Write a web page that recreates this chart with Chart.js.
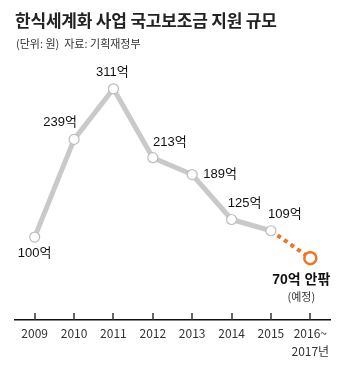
<!DOCTYPE html>
<html>
<head>
<meta charset="utf-8">
<script src="https://cdn.jsdelivr.net/npm/chart.js@4.4.3/dist/chart.umd.min.js"></script>
<style>
  html, body { margin:0; padding:0; background:#fff; }
  body { width:350px; height:382px; position:relative; overflow:hidden; font-family:"Noto Sans CJK KR", sans-serif; }
  #title { position:absolute; left:15px; top:7px; font-size:17px; font-weight:700; color:#222; letter-spacing:-0.2px; white-space:nowrap; }
  #sub { position:absolute; left:16px; top:35px; font-size:11px; color:#333; white-space:nowrap; }
  #wrap { position:absolute; left:0; top:0; width:350px; height:382px; }
</style>
</head>
<body>
<div id="wrap"><canvas id="c" width="350" height="382"></canvas></div>
<div id="title">한식세계화 사업 국고보조금 지원 규모</div>
<div id="sub">(단위: 원)&nbsp; 자료: 기획재정부</div>
<script>
// 데이터
const years = ['2009','2010','2011','2012','2013','2014','2015',['2016~','2017년']];
const amounts = [100,239,311,213,189,125,109,70];
const valueLabels = ['100억','239억','311억','213억','189억','125억','109억','70억 안팎'];
const noteLabel = '(예정)';

// 라벨 위치 (점 기준 오프셋)
const labelOffsets = [[0,16],[-14,-17],[-1,-16],[17,-15],[28,0],[13,-16],[14,-16],[-9,22]];

const GRAY = '#c9c9c9', ORANGE = '#f07324';
const last = amounts.length - 1;

const labelPlugin = {
  id: 'valueLabels',
  afterDatasetsDraw(chart){
    const ctx = chart.ctx;
    const pts = chart.getDatasetMeta(0).data;
    ctx.save();
    ctx.textAlign = 'center';
    ctx.textBaseline = 'middle';
    ctx.fillStyle = '#111';
    pts.forEach((p,i)=>{
      const [dx,dy] = labelOffsets[i];
      ctx.font = (i===last ? 'bold 14px ' : '13px ') + '"Liberation Sans","Noto Sans CJK KR",sans-serif';
      ctx.fillText(valueLabels[i], p.x+dx, p.y+dy);
      if(i===last){
        ctx.font = '11px "Noto Sans CJK KR",sans-serif';
        ctx.fillStyle = '#333';
        ctx.fillText(noteLabel, p.x+dx, p.y+dy+17);
      }
    });
    ctx.restore();
  }
};

// x축 위쪽 눈금
const tickPlugin = {
  id: 'upTicks',
  afterDraw(chart){
    const ctx = chart.ctx, xs = chart.scales.x, b = chart.chartArea.bottom;
    ctx.save();
    ctx.strokeStyle = '#333'; ctx.lineWidth = 1.5;
    years.forEach((_,i)=>{
      const x = Math.round(xs.getPixelForValue(i));
      ctx.beginPath(); ctx.moveTo(x, b-7); ctx.lineTo(x, b); ctx.stroke();
    });
    ctx.restore();
  }
};

new Chart(document.getElementById('c').getContext('2d'), {
  type: 'line',
  data: {
    labels: years,
    datasets: [{
      data: amounts,
      borderColor: GRAY,
      borderWidth: 5,
      tension: 0,
      clip: false,
      segment: {
        borderColor: c => c.p1DataIndex === last ? ORANGE : GRAY,
        borderDash: c => c.p1DataIndex === last ? [4,4] : undefined,
        borderWidth: c => c.p1DataIndex === last ? 4 : 5
      },
      pointRadius: c => c.dataIndex === last ? 6 : 5,
      pointBackgroundColor: '#fff',
      pointBorderColor: c => c.dataIndex === last ? ORANGE : '#bdbdbd',
      pointBorderWidth: c => c.dataIndex === last ? 2.5 : 1.2
    }]
  },
  options: {
    responsive: false,
    animation: false,
    layout: { padding: { left:15, right:20, top:60, bottom:0 } },
    plugins: { legend:{ display:false }, tooltip:{ enabled:false } },
    scales: {
      y: { display:false, min:-18, max:352 },
      x: {
        offset: true,
        grid: { display:false, drawTicks:false },
        border: { display:true, color:'#111', width:1.5 },
        ticks: { color:'#333', padding:5, font:{ size:12, lineHeight:1.45, family:'"Noto Sans CJK KR",sans-serif' }, maxRotation:0, autoSkip:false },
        afterFit: s => { s.height = 62; }
      }
    }
  },
  plugins: [labelPlugin, tickPlugin]
});
</script>
</body>
</html>
